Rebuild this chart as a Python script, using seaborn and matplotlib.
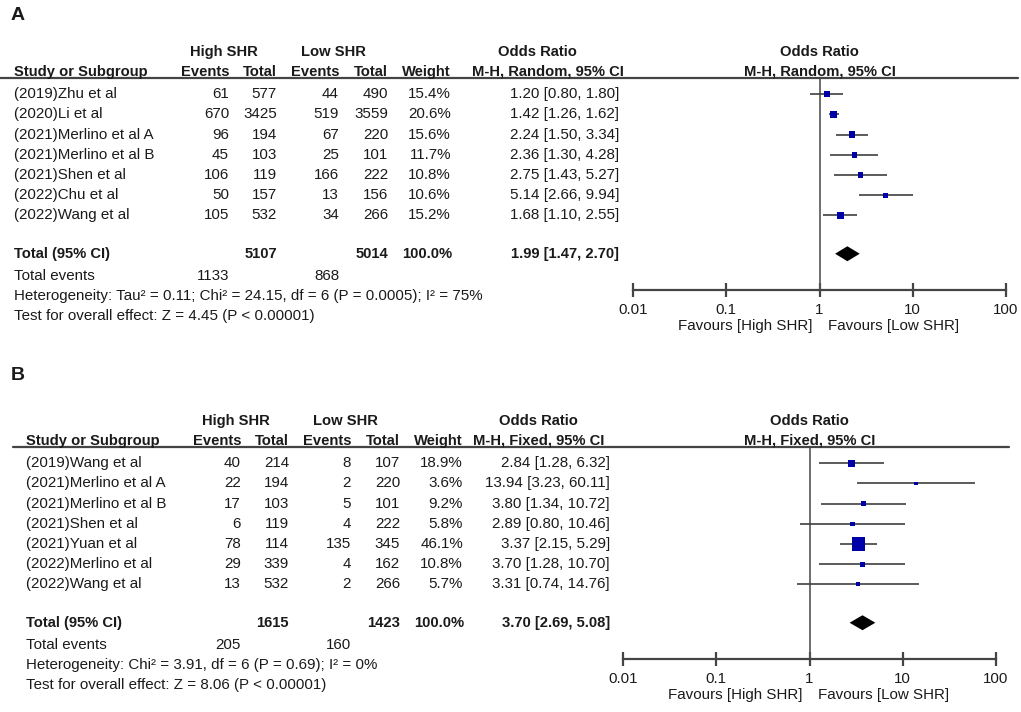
import numpy as np
import matplotlib.pyplot as plt
import seaborn as sns
from matplotlib.lines import Line2D
from matplotlib.transforms import blended_transform_factory

sns.set_style("white")
plt.rcParams["font.family"] = ["Liberation Sans", "DejaVu Sans"]

W, H = 1021, 712

# Panel A - random effects
a_studies = ["(2019)Zhu et al", "(2020)Li et al", "(2021)Merlino et al A", "(2021)Merlino et al B",
             "(2021)Shen et al", "(2022)Chu et al", "(2022)Wang et al"]
a_hi_events = [61, 670, 96, 45, 106, 50, 105]
a_hi_total = [577, 3425, 194, 103, 119, 157, 532]
a_lo_events = [44, 519, 67, 25, 166, 13, 34]
a_lo_total = [490, 3559, 220, 101, 222, 156, 266]
a_weight = [15.4, 20.6, 15.6, 11.7, 10.8, 10.6, 15.2]
a_or = [1.20, 1.42, 2.24, 2.36, 2.75, 5.14, 1.68]
a_ci_lo = [0.80, 1.26, 1.50, 1.30, 1.43, 2.66, 1.10]
a_ci_hi = [1.80, 1.62, 3.34, 4.28, 5.27, 9.94, 2.55]
a_totals = [5107, 5014, 1133, 868]   # total high, total low, events high, events low
a_pooled = [1.99, 1.47, 2.70]
a_method = "M-H, Random, 95% CI"
a_het = "Heterogeneity: Tau² = 0.11; Chi² = 24.15, df = 6 (P = 0.0005); I² = 75%"
a_test = "Test for overall effect: Z = 4.45 (P < 0.00001)"

# Panel B - fixed effects
b_studies = ["(2019)Wang et al", "(2021)Merlino et al A", "(2021)Merlino et al B", "(2021)Shen et al",
             "(2021)Yuan et al", "(2022)Merlino et al", "(2022)Wang et al"]
b_hi_events = [40, 22, 17, 6, 78, 29, 13]
b_hi_total = [214, 194, 103, 119, 114, 339, 532]
b_lo_events = [8, 2, 5, 4, 135, 4, 2]
b_lo_total = [107, 220, 101, 222, 345, 162, 266]
b_weight = [18.9, 3.6, 9.2, 5.8, 46.1, 10.8, 5.7]
b_or = [2.84, 13.94, 3.80, 2.89, 3.37, 3.70, 3.31]
b_ci_lo = [1.28, 3.23, 1.34, 0.80, 2.15, 1.28, 0.74]
b_ci_hi = [6.32, 60.11, 10.72, 10.46, 5.29, 10.70, 14.76]
b_totals = [1615, 1423, 205, 160]
b_pooled = [3.70, 2.69, 5.08]
b_method = "M-H, Fixed, 95% CI"
b_het = "Heterogeneity: Chi² = 3.91, df = 6 (P = 0.69); I² = 0%"
b_test = "Test for overall effect: Z = 8.06 (P < 0.00001)"

tick_vals = [0.01, 0.1, 1, 10, 100]
tick_labels = ["0.01", "0.1", "1", "10", "100"]

fig = plt.figure(figsize=(W / 100, H / 100), dpi=100)
FS = 10.9     # regular text
FSB = 10.6    # bold text
GRAY = "#444444"
TXT = "#1a1a1a"


def draw_panel(label, label_y, top, plot_left, dx, ci_right, line_x, studies, hev, htot, lev, ltot,
               weight, orr, lo, hi, totals, pooled, method, het, test):
    # forest axes: from header rule (row -0.8) down to x-axis (row 9.7), 20.2 px per row
    row_px = 20.2
    bottom = top + 10.5 * row_px
    ax = fig.add_axes([plot_left / W, 1 - bottom / H, 373 / W, 10.5 * row_px / H])
    ax.set_xscale("log")
    rows = np.arange(len(studies))
    total_y = 7.9

    ax.axvline(1, color="#555555", lw=1.2, zorder=1)
    ax.hlines(rows, lo, hi, color="#404040", lw=1.2, zorder=2)
    side_px = 2.8 + 0.23 * np.array(weight)
    sizes = (side_px * 72 / 100) ** 2
    sns.scatterplot(x=orr, y=rows, s=sizes, marker="s", color="#0000A8", linewidth=0,
                    legend=False, ax=ax, zorder=3)
    est, clo, chi = pooled
    h = 0.37
    ax.fill([clo, est, chi, est], [total_y, total_y - h, total_y, total_y + h],
            color="black", lw=0, zorder=3)

    ax.set_xlim(0.01, 100)
    ax.set_ylim(9.7, -0.8)
    ax.set_xticks(tick_vals)
    ax.set_xticklabels(tick_labels)
    ax.xaxis.set_minor_locator(plt.NullLocator())
    ax.set_yticks([])
    ax.set_xlabel("")
    ax.set_ylabel("")
    for s in ["top", "left", "right"]:
        ax.spines[s].set_visible(False)
    ax.spines["bottom"].set_color(GRAY)
    ax.spines["bottom"].set_linewidth(1.6)
    ax.tick_params(axis="x", bottom=True, direction="inout", length=10, width=1.6, color=GRAY,
                   labelsize=FS, pad=4, labelcolor=TXT)
    ax.patch.set_alpha(0)

    ax.annotate("Favours [High SHR]", xy=(1, 0), xycoords=("data", "axes fraction"),
                xytext=(-5, -25.5), textcoords="offset points", ha="right", va="center",
                fontsize=FS, color=TXT)
    ax.annotate("Favours [Low SHR]", xy=(1, 0), xycoords=("data", "axes fraction"),
                xytext=(6, -25.5), textcoords="offset points", ha="left", va="center",
                fontsize=FS, color=TXT)

    bt = blended_transform_factory(fig.transFigure, ax.transData)
    at = blended_transform_factory(ax.transAxes, ax.transData)

    def t(x, y, s, ha="right", bold=False, tr=bt):
        fig.text(x / W if tr is bt else x, y, s, transform=tr, ha=ha, va="center",
                 fontsize=FSB if bold else FS, fontweight="bold" if bold else "normal", color=TXT)

    # header rule across the whole panel
    fig.add_artist(Line2D([line_x[0] / W, line_x[1] / W], [-0.8, -0.8], transform=bt,
                          color=GRAY, lw=1.6))
    fig.text(11 / W, 1 - label_y / H, label, fontsize=14, fontweight="bold",
             ha="left", va="center", color=TXT)

    name_x = 14 + dx
    cols = [229 + dx, 277 + dx, 339 + dx, 388 + dx, 451 + dx]
    t(224 + dx, -2.1, "High SHR", ha="center", bold=True)
    t(333 + dx, -2.1, "Low SHR", ha="center", bold=True)
    t(537 + dx * 0.1, -2.1, "Odds Ratio", ha="center", bold=True)
    t(ci_right - 71, -1.1, method, ha="center", bold=True)
    t(name_x, -1.1, "Study or Subgroup", ha="left", bold=True)
    for x, s in zip(cols, ["Events", "Total", "Events", "Total", "Weight"]):
        t(x, -1.1, s, bold=True)
    t(0.5, -2.1, "Odds Ratio", ha="center", bold=True, tr=at)
    t(0.5, -1.1, method, ha="center", bold=True, tr=at)

    for i in rows:
        t(name_x, i, studies[i], ha="left")
        t(cols[0], i, str(hev[i]))
        t(cols[1], i, str(htot[i]))
        t(cols[2], i, str(lev[i]))
        t(cols[3], i, str(ltot[i]))
        t(cols[4], i, f"{weight[i]:.1f}%")
        t(ci_right, i, f"{orr[i]:.2f} [{lo[i]:.2f}, {hi[i]:.2f}]")

    t(name_x, total_y, "Total (95% CI)", ha="left", bold=True)
    t(cols[1], total_y, str(totals[0]), bold=True)
    t(cols[3], total_y, str(totals[1]), bold=True)
    t(cols[4] + 1, total_y, "100.0%", bold=True)
    t(ci_right, total_y, f"{est:.2f} [{clo:.2f}, {chi:.2f}]", bold=True)
    t(name_x, 9.0, "Total events", ha="left")
    t(cols[0], 9.0, str(totals[2]))
    t(cols[2], 9.0, str(totals[3]))
    t(name_x, 10.0, het, ha="left")
    t(name_x, 11.0, test, ha="left")


draw_panel("A", 16, 78, 633, 0, 619, (0, 1018), a_studies, a_hi_events, a_hi_total, a_lo_events,
           a_lo_total, a_weight, a_or, a_ci_lo, a_ci_hi, a_totals, a_pooled, a_method, a_het, a_test)
draw_panel("B", 375, 447, 623, 12, 610, (13, 1009), b_studies, b_hi_events, b_hi_total, b_lo_events,
           b_lo_total, b_weight, b_or, b_ci_lo, b_ci_hi, b_totals, b_pooled, b_method, b_het, b_test)

fig.savefig("out.png", dpi=100)
